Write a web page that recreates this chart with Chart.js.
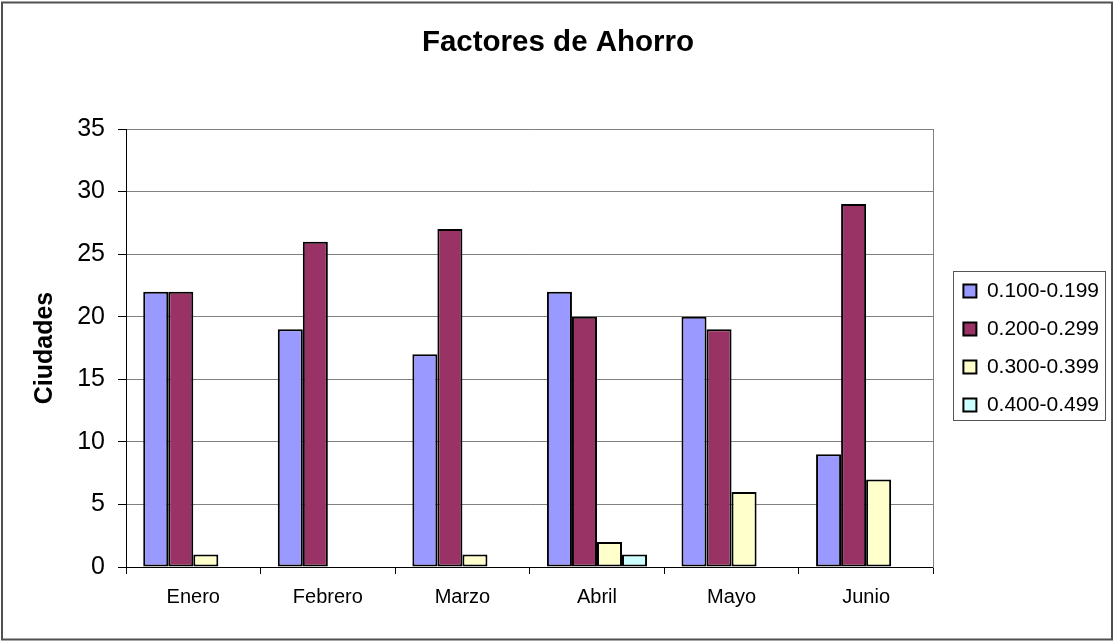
<!DOCTYPE html>
<html>
<head>
<meta charset="utf-8">
<title>Factores de Ahorro</title>
<script src="https://cdn.jsdelivr.net/npm/chart.js@4.4.0/dist/chart.umd.min.js"></script>
<style>
  html, body { margin: 0; padding: 0; background: #fff; }
  canvas { display: block; }
</style>
</head>
<body>
<canvas id="chartFactores" width="1114" height="641"></canvas>
<script>
// ==================== DATOS ====================
const meses = ['Enero', 'Febrero', 'Marzo', 'Abril', 'Mayo', 'Junio'];
const rangos = ['0.100-0.199', '0.200-0.299', '0.300-0.399', '0.400-0.499'];
const rango1 = [22, 19, 17, 22, 20, 9];
const rango2 = [22, 26, 27, 20, 19, 29];
const rango3 = [1, 0, 1, 2, 6, 7];
const rango4 = [0, 0, 0, 1, 0, 0];
const colores = ['#9999FF', '#993366', '#FFFFCC', '#CCFFFF'];
const ejeY = { min: 0, max: 35, paso: 5 };

Chart.defaults.font.family = 'Arial, "Liberation Sans", sans-serif';
Chart.defaults.color = '#000';

// marco exterior del gráfico (estilo Excel)
const marcoExterior = {
  id: 'marcoExterior',
  beforeDraw(chart) {
    const ctx = chart.ctx;
    ctx.save();
    ctx.fillStyle = '#fff';
    ctx.fillRect(0, 0, chart.width, chart.height);
    ctx.restore();
  },
  afterDraw(chart) {
    const ctx = chart.ctx;
    ctx.save();
    ctx.strokeStyle = '#505050';
    ctx.lineWidth = 2;
    ctx.strokeRect(2, 2.5, 1110, 637);
    ctx.restore();
  }
};

// recuadro alrededor de la leyenda
const marcoLeyenda = {
  id: 'marcoLeyenda',
  afterDraw(chart) {
    const hb = chart.legend && chart.legend.legendHitBoxes;
    if (!hb || !hb.length) return;
    const ctx = chart.ctx;
    const izq = Math.min(...hb.map(h => h.left)) - 10;
    const der = Math.max(...hb.map(h => h.left + h.width)) + 6;
    const arriba = hb[0].top - 10;
    const abajo = hb[hb.length - 1].top + hb[hb.length - 1].height + 4;
    ctx.save();
    ctx.strokeStyle = '#555';
    ctx.lineWidth = 1;
    ctx.strokeRect(Math.round(izq) + 0.5, Math.round(arriba) + 0.5, Math.round(der - izq), Math.round(abajo - arriba));
    ctx.restore();
  }
};

const series = [rango1, rango2, rango3, rango4];

new Chart(document.getElementById('chartFactores').getContext('2d'), {
  type: 'bar',
  data: {
    labels: meses,
    datasets: series.map((valores, i) => ({
      label: rangos[i],
      data: valores,
      backgroundColor: colores[i],
      borderColor: '#000',
      borderWidth: 2,
      borderSkipped: false,
      categoryPercentage: 0.744,
      barPercentage: 1.0
    }))
  },
  options: {
    responsive: false,
    animation: false,
    devicePixelRatio: 1,
    layout: { padding: { left: 7, right: 5, top: 0, bottom: 0 } },
    scales: {
      x: {
        grid: {
          display: true,
          drawOnChartArea: false,
          drawTicks: true,
          tickLength: 7,
          tickColor: '#000',
          offset: true
        },
        border: { display: true, color: '#000', width: 1 },
        ticks: { font: { size: 20 }, padding: 11, maxRotation: 0, autoSkip: false, color: '#000' },
        afterFit(scale) { scale.height = 74; }
      },
      y: {
        min: ejeY.min,
        max: ejeY.max,
        ticks: { stepSize: ejeY.paso, font: { size: 25 }, padding: 13, color: '#000' },
        grid: { color: '#808080', tickColor: '#000', tickLength: 8, lineWidth: 1 },
        border: { display: true, color: '#000', width: 1 },
        title: {
          display: true,
          text: 'Ciudades',
          font: { size: 25, weight: 'bold' },
          color: '#000',
          padding: { top: 23, bottom: 0 }
        },
        afterFit(scale) { scale.width = 119; }
      },
      y2: {
        position: 'right',
        display: true,
        min: ejeY.min,
        max: ejeY.max,
        ticks: { display: false },
        grid: { drawOnChartArea: false, drawTicks: false },
        border: { display: true, color: '#808080', width: 1 },
        afterFit(scale) { scale.width = 13; }
      }
    },
    plugins: {
      title: {
        display: true,
        text: 'Factores de Ahorro',
        font: { size: 29.5, weight: 'bold' },
        color: '#000',
        padding: { top: 25, bottom: 68.6 }
      },
      legend: {
        position: 'right',
        fullSize: false,
        labels: {
          boxWidth: 13,
          boxHeight: 13,
          padding: 17,
          font: { size: 21 },
          color: '#000'
        }
      },
      tooltip: { enabled: false }
    }
  },
  plugins: [marcoExterior, marcoLeyenda]
});
</script>
</body>
</html>
